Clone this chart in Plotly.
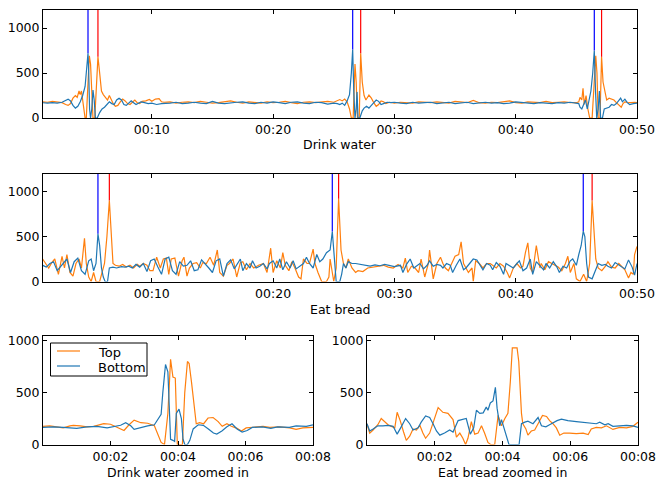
import plotly.graph_objects as go

ORANGE = "#ff7f0e"
BLUE = "#1f77b4"

# ---------------- Drink water (full) ----------------
DW_T_TOP = [1.0, 1.4, 1.8, 2.2, 2.6, 2.9, 3.1, 3.3, 3.5, 3.7, 3.85, 4.0, 4.1, 4.2, 4.3, 4.4, 4.5, 4.6, 4.7, 4.85,
            4.95, 5.05, 5.15, 5.3, 5.45, 5.56, 5.7, 5.85, 6.0, 6.2, 6.35, 6.5, 6.7, 6.85, 7.0, 7.2, 7.4, 7.6, 7.8,
            8.0, 8.2, 8.4, 8.6, 8.8, 9.0, 9.2, 9.5, 9.8, 10.0, 10.3, 10.6, 10.8,
            11.0, 11.5, 12.0, 12.5, 13.0, 13.5, 14.0, 14.5, 15.0, 15.5, 16.0, 16.5, 17.0, 17.5, 18.0, 18.5, 19.0,
            19.5, 20.0, 20.5, 21.0, 21.5, 22.0, 22.5, 23.0, 23.5, 24.0, 24.5,
            25.0, 25.3, 25.5, 25.7, 25.9, 26.1, 26.3, 26.45, 26.6, 26.75, 26.85, 26.95, 27.1, 27.22, 27.35, 27.5,
            27.65, 27.9, 28.1, 28.3, 28.5, 28.7, 28.9, 29.1, 29.3, 29.6,
            30.0, 30.5, 31.0, 31.5, 32.0, 32.5, 33.0, 33.5, 34.0, 34.5, 35.0, 35.5, 36.0, 36.5, 37.0, 37.5, 38.0,
            38.5, 39.0, 39.5, 40.0, 40.5, 41.0, 41.5, 42.0, 42.5, 43.0, 43.5, 44.0, 44.5,
            45.0, 45.2, 45.3, 45.45, 45.55, 45.65, 45.8, 45.95, 46.1, 46.3, 46.45, 46.6, 46.7, 46.8, 46.95, 47.08,
            47.2, 47.35, 47.5, 47.7, 47.9, 48.1, 48.3, 48.5, 48.7, 48.85, 49.0, 49.2, 49.5, 49.8, 50.0]
DW_TOP = [180, 175, 185, 180, 170, 150, 140, 160, 220, 250, 230, 300, 260, 300, 180, 50, 0, 0, 300, 690,
          600, 300, 0, 0, 400, 680, 500, 300, 260, 230, 200, 250, 180, 150, 130, 140, 180, 210, 190,
          160, 150, 180, 200, 170, 160, 185, 190, 205, 185, 210, 215, 180,
          175, 180, 165, 175, 180, 170, 185, 175, 165, 170, 180, 190, 175, 165, 180, 175, 165,
          180, 170, 175, 185, 170, 160, 175, 180, 170, 175, 185,
          175, 190, 205, 190, 210, 180, 100, 0, 0, 600, 400, 0, 0, 720, 400, 250,
          200, 255, 220, 170, 130, 150, 190, 180, 160, 175,
          165, 175, 170, 165, 180, 175, 170, 180, 175, 165, 185, 175, 170, 195, 170, 165, 175,
          170, 180, 190, 170, 165, 180, 175, 170, 185, 170, 175, 180, 170,
          170, 180, 230, 200, 330, 150, 250, 100, 0, 0, 300, 690, 500, 0, 0, 680,
          400, 280, 200, 220, 210, 200, 170, 150, 120, 160, 180, 175, 170, 175, 170]

DW_T_BOT = [1.0, 1.4, 1.8, 2.2, 2.6, 2.9, 3.1, 3.3, 3.5, 3.7, 3.9, 4.1, 4.3, 4.5, 4.65, 4.74, 4.8, 4.87, 4.95,
            5.05, 5.15, 5.25, 5.35, 5.5, 5.7, 5.9, 6.1, 6.3, 6.5, 6.7, 6.9, 7.1, 7.3, 7.5, 7.7, 7.9, 8.1, 8.3,
            8.5, 8.7, 8.9, 9.1, 9.4, 9.7, 10.0, 10.4, 10.8,
            11.0, 11.5, 12.0, 12.5, 13.0, 13.5, 14.0, 14.5, 15.0, 15.5, 16.0, 16.5, 17.0, 17.5, 18.0, 18.5, 19.0,
            19.5, 20.0, 20.5, 21.0, 21.5, 22.0, 22.5, 23.0, 23.5, 24.0, 24.5,
            25.0, 25.3, 25.5, 25.7, 25.9, 26.1, 26.3, 26.45, 26.56, 26.65, 26.75, 26.85, 26.92, 27.0, 27.15,
            27.35, 27.5, 27.7, 27.9, 28.1, 28.3, 28.5, 28.7, 28.9, 29.1, 29.4, 29.7,
            30.0, 30.5, 31.0, 31.5, 32.0, 32.5, 33.0, 33.5, 34.0, 34.5, 35.0, 35.5, 36.0, 36.5, 37.0, 37.5, 38.0,
            38.5, 39.0, 39.5, 40.0, 40.5, 41.0, 41.5, 42.0, 42.5, 43.0, 43.5, 44.0, 44.5,
            45.0, 45.2, 45.3, 45.45, 45.6, 45.75, 45.9, 46.05, 46.2, 46.35, 46.48, 46.58, 46.68, 46.8, 46.9,
            47.0, 47.15, 47.3, 47.5, 47.7, 47.9, 48.1, 48.3, 48.5, 48.65, 48.8, 49.0, 49.2, 49.4, 49.7, 50.0]
DW_BOT = [170, 165, 170, 165, 175, 200, 210, 190, 140, 110, 130, 180, 250, 350, 600, 720, 500, 100, 0,
          100, 310, 200, 0, 0, 60, 100, 120, 150, 180, 160, 150, 200, 220, 200, 150, 140, 170, 190,
          170, 150, 165, 180, 170, 160, 165, 150, 160,
          160, 165, 175, 160, 165, 175, 165, 160, 185, 165, 160, 170, 175, 180, 165, 160, 175,
          165, 180, 170, 160, 175, 180, 165, 160, 175, 170, 155,
          165, 160, 150, 165, 140, 190, 260, 500, 760, 300, 0, 100, 290, 0, 0,
          80, 110, 130, 110, 140, 170, 200, 185, 150, 160, 175, 170,
          175, 165, 160, 175, 165, 170, 175, 160, 165, 175, 160, 170, 175, 160, 170, 175, 165,
          170, 160, 165, 180, 175, 165, 160, 170, 165, 160, 170, 165, 175,
          165, 160, 120, 100, 150, 200, 100, 200, 300, 500, 750, 300, 0, 100, 300,
          0, 0, 100, 110, 120, 150, 140, 160, 200, 220, 180, 210, 170, 150, 160, 165]

# ---------------- Eat bread (full) ----------------
EB_T_TOP = [1.0, 1.25, 1.5, 1.75, 2.0, 2.3, 2.6, 2.8, 3.0, 3.25, 3.5, 3.75, 4.0, 4.2, 4.45, 4.6, 4.8, 5.0, 5.2,
            5.4, 5.7, 6.1, 6.3, 6.5, 6.65, 6.8, 7.0, 7.3, 7.6, 7.9, 8.2, 8.5, 8.8, 9.0, 9.3, 9.6, 9.85, 10.1,
            10.4, 10.7, 10.95, 11.2, 11.4, 11.6, 11.9, 12.2, 12.5, 12.65, 12.9, 13.1, 13.4, 13.7, 14.0, 14.2,
            14.5, 14.8, 15.1, 15.4, 15.6, 15.9, 16.2, 16.4, 16.7, 17.0, 17.3, 17.5, 17.8, 18.1, 18.4, 18.8,
            19.2, 19.5, 19.8, 20.0, 20.3, 20.6, 20.8, 21.0, 21.3, 21.55, 21.8, 22.1, 22.3, 22.5, 22.8, 23.0,
            23.3, 23.45, 23.7, 24.0, 24.4, 24.6, 24.7, 25.0, 25.2, 25.4, 25.6, 25.8, 26.0, 26.2, 26.5, 26.8,
            27.0, 27.4, 27.8, 28.3, 28.7, 29.1, 29.5, 29.9, 30.3, 30.7, 30.9, 31.1, 31.4, 31.7, 32.0, 32.2,
            32.5, 32.8, 32.9, 33.2, 33.5, 33.8, 34.0, 34.2, 34.45, 34.7, 35.0, 35.3, 35.5, 35.7, 35.9, 36.1,
            36.4, 36.5, 36.7, 37.0, 37.3, 37.6, 37.9, 38.2, 38.4, 38.7, 39.0, 39.3, 39.5, 39.8, 40.1, 40.4,
            40.6, 40.8, 41.0, 41.2, 41.4, 41.7, 42.0, 42.1, 42.4, 42.7, 43.0, 43.2, 43.5, 43.8, 44.1, 44.3,
            44.5, 44.8, 45.0, 45.3, 45.6, 45.85, 46.1, 46.3, 46.45, 46.6, 46.8, 47.1, 47.4, 47.6, 47.9, 48.2,
            48.5, 48.7, 49.0, 49.3, 49.5, 49.7, 49.8, 50.0]
EB_TOP = [250, 200, 150, 210, 250, 80, 280, 150, 300, 100, 60, 200, 250, 150, 480, 200, 50, 0, 100,
          0, 0, 200, 500, 900, 500, 200, 180, 170, 190, 160, 180, 150, 190, 170, 200, 180, 120, 120,
          270, 150, 250, 260, 80, 250, 260, 60, 230, 270, 60, 150, 200, 210, 150, 210,
          200, 270, 180, 350, 100, 60, 180, 200, 250, 50, 210, 220, 130, 200, 150, 180,
          200, 100, 370, 100, 230, 150, 320, 180, 120, 220, 150, 50, 30, 250, 200, 200,
          360, 200, 100, 0, 0, 50, 250, 0, 150, 920, 350, 200, 150, 250, 150, 100,
          120, 110, 150, 160, 170, 180, 160, 150, 190, 150, 260, 100, 170, 150, 100, 250,
          50, 200, 350, 30, 200, 270, 200, 150, 120, 200, 280, 300, 440, 200, 150, 100,
          150, 0, 230, 200, 150, 200, 200, 170, 150, 200, 170, 100, 40, 150, 200, 150,
          170, 320, 430, 150, 100, 400, 150, 200, 130, 220, 200, 180, 160, 120, 200, 280,
          100, 200, 30, 0, 80, 0, 200, 900, 600, 250, 150, 120, 170, 220, 160, 150,
          200, 170, 130, 40, 100, 80, 300, 390]

EB_T_BOT = [1.0, 1.3, 1.6, 1.9, 2.2, 2.5, 2.8, 3.0, 3.3, 3.6, 3.9, 4.2, 4.5, 4.8, 5.0, 5.2, 5.4, 5.56, 5.7,
            5.85, 6.0, 6.15, 6.35, 6.5, 6.8, 7.1, 7.5, 7.8, 8.1, 8.4, 8.7, 9.0, 9.3, 9.6, 9.9, 10.2, 10.5,
            10.8, 11.1, 11.4, 11.7, 12.0, 12.3, 12.6, 12.9, 13.2, 13.5, 13.8, 14.1, 14.4, 14.7, 15.0, 15.3,
            15.6, 15.9, 16.2, 16.5, 16.8, 17.1, 17.3, 17.5, 17.8, 18.1, 18.3, 18.6, 18.9, 19.2, 19.5, 19.7,
            20.0, 20.3, 20.55, 20.8, 21.1, 21.4, 21.65, 21.9, 22.2, 22.5, 22.75, 23.0, 23.3, 23.6, 23.85,
            24.1, 24.4, 24.7, 24.88, 25.0, 25.2, 25.5, 25.65, 25.8, 26.0, 26.2, 26.5, 26.8, 27.2, 27.6, 28.0,
            28.4, 28.8, 29.2, 29.6, 30.0, 30.5, 30.7, 31.0, 31.3, 31.6, 31.8, 32.1, 32.4, 32.7, 32.9, 33.2,
            33.5, 33.8, 34.0, 34.3, 34.6, 34.8, 35.1, 35.4, 35.7, 35.9, 36.2, 36.5, 36.8, 37.0, 37.3, 37.6,
            37.9, 38.1, 38.4, 38.7, 39.0, 39.2, 39.5, 39.8, 40.1, 40.3, 40.6, 40.9, 41.2, 41.4, 41.7, 42.0,
            42.3, 42.5, 42.8, 43.1, 43.4, 43.6, 43.9, 44.2, 44.5, 44.7, 45.0, 45.2, 45.4, 45.57, 45.7, 45.85,
            46.0, 46.3, 46.5, 46.8, 47.1, 47.4, 47.6, 47.9, 48.2, 48.5, 48.7, 49.0, 49.3, 49.6, 49.8, 50.0]
EB_BOT = [180, 160, 200, 220, 120, 170, 220, 250, 100, 220, 260, 120, 80, 230, 250, 120, 200, 530, 400,
          150, 50, 0, 0, 150, 160, 150, 165, 160, 170, 150, 190, 160, 200, 110, 230, 250, 160,
          80, 250, 270, 120, 80, 220, 170, 180, 230, 120, 130, 240, 200, 150, 100, 230,
          250, 60, 200, 240, 140, 200, 250, 120, 200, 150, 230, 150, 170, 200, 140, 200,
          230, 150, 250, 130, 220, 150, 230, 140, 170, 200, 270, 200, 150, 300, 220,
          250, 320, 350, 555, 300, 0, 0, 80, 200, 150, 220, 200, 200, 190, 180, 170,
          185, 175, 190, 180, 165, 180, 100, 190, 250, 150, 170, 200, 140, 180, 230, 170,
          190, 180, 150, 200, 180, 100, 180, 250, 130, 150, 200, 250, 240, 200, 130, 200,
          180, 130, 210, 170, 80, 200, 170, 150, 200, 230, 120, 150, 250, 80, 220, 180,
          130, 200, 150, 220, 160, 100, 170, 150, 230, 250, 180, 300, 400, 560, 500, 200,
          50, 30, 100, 200, 180, 190, 170, 150, 210, 180, 170, 140, 240, 160, 70, 200]

# ---------------- Drink water zoomed in ----------------
DWZ_T_TOP = [0.0, 0.2, 0.4, 0.6, 0.8, 0.9, 1.1, 1.3, 1.5, 1.7, 1.8, 2.0, 2.2, 2.4, 2.55, 2.7, 2.9, 3.1, 3.3, 3.4,
             3.5, 3.6, 3.7, 3.78, 3.85, 3.92, 3.98, 4.13, 4.2, 4.28, 4.33, 4.4, 4.46, 4.54, 4.64, 4.76, 4.89,
             5.04, 5.19, 5.31, 5.45, 5.58, 5.75, 5.88, 6.02, 6.22, 6.52, 6.72, 7.01, 7.31, 7.5, 7.7, 8.0]
DWZ_TOP = [175, 180, 170, 160, 180, 185, 180, 170, 175, 190, 200, 195, 165, 135, 190, 235, 210, 205, 180, 100,
           20, 0, 300, 820, 650, 640, 0, 0, 500, 800, 780, 600, 450, 200, 210, 200, 255,
           260, 220, 175, 200, 175, 155, 130, 160, 165, 175, 165, 170, 160, 145, 160, 165]
DWZ_T_BOT = [0.0, 0.3, 0.6, 1.0, 1.3, 1.6, 1.9, 2.1, 2.3, 2.45, 2.6, 2.7, 2.9, 3.1, 3.3, 3.45, 3.5, 3.55, 3.63,
             3.7, 3.75, 3.78, 3.85, 3.9, 3.95, 4.03, 4.1, 4.15, 4.2, 4.28, 4.35, 4.45, 4.6, 4.75, 4.9, 5.05,
             5.15, 5.3, 5.45, 5.6, 5.75, 5.9, 6.05, 6.2, 6.5, 6.75, 6.95, 7.3, 7.5, 7.8, 8.0]
DWZ_BOT = [165, 170, 165, 155, 170, 175, 160, 175, 185, 210, 180, 145, 165, 180, 190, 260, 290, 500, 770,
           700, 300, 50, 40, 30, 300, 340, 250, 50, 0, 0, 40, 150, 190, 185, 150, 110,
           100, 130, 170, 200, 150, 120, 135, 165, 170, 155, 170, 165, 180, 175, 190]

# ---------------- Eat bread zoomed in ----------------
EBZ_T_TOP = [0.0, 0.08, 0.18, 0.32, 0.42, 0.52, 0.62, 0.72, 0.82, 0.89, 0.98, 1.08, 1.16, 1.26, 1.36, 1.46, 1.56,
             1.65, 1.73, 1.85, 2.0, 2.1, 2.24, 2.39, 2.54, 2.64, 2.74, 2.83, 2.91, 2.98, 3.08, 3.18, 3.28, 3.38,
             3.47, 3.57, 3.65, 3.77, 3.87, 3.97, 4.07, 4.16, 4.23, 4.29, 4.43, 4.48, 4.56, 4.6, 4.69, 4.75,
             4.85, 4.95, 5.05, 5.18, 5.3, 5.39, 5.49, 5.59, 5.69, 5.81, 5.98, 6.18, 6.38, 6.53, 6.62, 6.77,
             6.92, 7.07, 7.26, 7.46, 7.66, 7.85, 8.0]
EBZ_TOP = [200, 110, 140, 190, 250, 215, 190, 175, 160, 310, 230, 120, 40, 80, 150, 140, 185,
           110, 60, 110, 250, 355, 310, 300, 240, 70, 110, 60, 0, 60, 220, 100, 110, 180,
           110, 20, 0, 0, 280, 180, 250, 300, 600, 930, 930, 800, 300, 200, 150, 90,
           130, 140, 200, 280, 270, 230, 200, 160, 90, 110, 110, 105, 110, 95, 150, 165,
           160, 180, 145, 165, 160, 175, 215]
EBZ_T_BOT = [0.0, 0.08, 0.18, 0.32, 0.47, 0.62, 0.77, 0.89, 1.01, 1.14, 1.26, 1.36, 1.51, 1.6, 1.73, 1.85, 1.95,
             2.05, 2.15, 2.29, 2.44, 2.54, 2.69, 2.81, 2.93, 3.05, 3.15, 3.23, 3.33, 3.43, 3.52, 3.57, 3.64,
             3.72, 3.79, 3.84, 3.92, 3.97, 4.04, 4.11, 4.19, 4.49, 4.56, 4.66, 4.75, 4.9, 5.05, 5.15, 5.28,
             5.39, 5.49, 5.61, 5.74, 5.93, 6.18, 6.38, 6.57, 6.77, 6.87, 7.02, 7.12, 7.26, 7.46, 7.66, 7.85, 8.0]
EBZ_BOT = [200, 130, 150, 180, 180, 185, 175, 100, 170, 250, 200, 140, 160, 215, 275, 260, 200,
           130, 90, 110, 140, 120, 230, 240, 250, 100, 160, 330, 300, 305, 360, 330, 400,
           420, 550, 350, 180, 240, 170, 100, 0, 0, 200, 215, 225, 200, 260, 180, 170,
           190, 210, 230, 245, 230, 220, 215, 205, 200, 215, 190, 200, 175, 180, 185, 180, 165]

# Windows (seconds) in which the detected peaks are marked
DW_BLUE_WINDOWS = [(4.0, 5.2), (26.0, 27.0), (46.0, 47.0)]
DW_RED_WINDOWS = [(5.4, 6.0), (27.1, 27.6), (47.0, 47.5)]
EB_BLUE_WINDOWS = [(5.0, 6.0), (24.5, 25.2), (45.0, 46.0)]
EB_RED_WINDOWS = [(6.0, 7.0), (25.0, 26.0), (46.0, 46.6)]

FULL_TICKS = [10, 20, 30, 40, 50]
FULL_TICK_LABELS = ["00:10", "00:20", "00:30", "00:40", "00:50"]
ZOOM_TICKS = [2, 4, 6, 8]
ZOOM_TICK_LABELS = ["00:02", "00:04", "00:06", "00:08"]
Y_TICKS = [0, 500, 1000]
LEGEND_NAMES = ["Top", "Bottom"]
LEGEND_COLORS = [ORANGE, BLUE]

FONT = "DejaVu Sans"
FS = 12.5
W, H = 657, 480


def px_x(p):
    return p / W


def px_y(p):
    return 1 - p / H


fig = go.Figure()


def add_line(t, v, color, xa, ya, name=None):
    fig.add_trace(go.Scatter(x=t, y=v, mode="lines", line=dict(color=color, width=1.2),
                             xaxis=xa, yaxis=ya, name=name, showlegend=False, hoverinfo="skip"))


def peak_marks(t, v, windows, color, xa, ya, ymax):
    for (a, b) in windows:
        idx = [i for i, tt in enumerate(t) if a <= tt <= b]
        i = max(idx, key=lambda k: v[k])
        fig.add_trace(go.Scatter(x=[t[i], t[i]], y=[v[i], ymax], mode="lines",
                                 line=dict(color=color, width=1.2), xaxis=xa, yaxis=ya,
                                 showlegend=False, hoverinfo="skip"))


# Drink water
add_line(DW_T_TOP, DW_TOP, ORANGE, "x", "y")
add_line(DW_T_BOT, DW_BOT, BLUE, "x", "y")
peak_marks(DW_T_BOT, DW_BOT, DW_BLUE_WINDOWS, "#0000ff", "x", "y", 1200)
peak_marks(DW_T_TOP, DW_TOP, DW_RED_WINDOWS, "#ff0000", "x", "y", 1200)
# Eat bread
add_line(EB_T_TOP, EB_TOP, ORANGE, "x2", "y2")
add_line(EB_T_BOT, EB_BOT, BLUE, "x2", "y2")
peak_marks(EB_T_BOT, EB_BOT, EB_BLUE_WINDOWS, "#0000ff", "x2", "y2", 1200)
peak_marks(EB_T_TOP, EB_TOP, EB_RED_WINDOWS, "#ff0000", "x2", "y2", 1200)
# Zoomed
add_line(DWZ_T_TOP, DWZ_TOP, ORANGE, "x3", "y3", "Top")
add_line(DWZ_T_BOT, DWZ_BOT, BLUE, "x3", "y3", "Bottom")
add_line(EBZ_T_TOP, EBZ_TOP, ORANGE, "x4", "y4")
add_line(EBZ_T_BOT, EBZ_BOT, BLUE, "x4", "y4")

axis_common = dict(showline=True, linecolor="black", linewidth=1, mirror="ticks", ticks="inside",
                   ticklen=4, tickcolor="black", showgrid=False, zeroline=False, automargin=False,
                   tickfont=dict(family=FONT, size=FS, color="black"))


def xaxis(domain, rng, tv, tt, anchor):
    return dict(domain=domain, range=rng, tickvals=tv, ticktext=tt, anchor=anchor, **axis_common)


def yaxis(domain, rng, anchor):
    return dict(domain=domain, range=rng, tickvals=Y_TICKS, ticktext=[str(v) for v in Y_TICKS],
                anchor=anchor, **axis_common)


# Compact matplotlib-style legend box (frame, line samples and labels)
shapes = [dict(type="rect", xref="paper", yref="paper", x0=px_x(50.5), x1=px_x(147), y0=px_y(376),
               y1=px_y(343), line=dict(color="black", width=1), fillcolor="white", layer="above")]
for k, (name, col) in enumerate(zip(LEGEND_NAMES, LEGEND_COLORS)):
    yy = 351 + 15 * k
    shapes.append(dict(type="line", xref="paper", yref="paper", x0=px_x(57), x1=px_x(80),
                       y0=px_y(yy), y1=px_y(yy), line=dict(color=col, width=1.2), layer="above"))

fig.update_layout(
    width=W, height=H, autosize=False,
    margin=dict(l=0, r=0, t=0, b=0, pad=0, autoexpand=False),
    paper_bgcolor="white", plot_bgcolor="white",
    font=dict(family=FONT, size=FS, color="black"),
    xaxis=xaxis([px_x(43), px_x(637)], [1.03, 50], FULL_TICKS, FULL_TICK_LABELS, "y"),
    yaxis=yaxis([px_y(118), px_y(10)], [0, 1200], "x"),
    xaxis2=xaxis([px_x(43), px_x(637)], [1.03, 50], FULL_TICKS, FULL_TICK_LABELS, "y2"),
    yaxis2=yaxis([px_y(281.5), px_y(173.5)], [0, 1200], "x2"),
    xaxis3=xaxis([px_x(43), px_x(313)], [0, 8], ZOOM_TICKS, ZOOM_TICK_LABELS, "y3"),
    yaxis3=yaxis([px_y(444.5), px_y(336)], [0, 1045], "x3"),
    xaxis4=xaxis([px_x(367), px_x(638)], [0, 8], ZOOM_TICKS, ZOOM_TICK_LABELS, "y4"),
    yaxis4=yaxis([px_y(444.5), px_y(336)], [0, 1045], "x4"),
    shapes=shapes,
    showlegend=False,
)

labels = [("Drink water", 340, 145), ("Eat bread", 340, 309),
          ("Drink water zoomed in", 178, 472), ("Eat bread zoomed in", 503, 472)]
for text, x, y in labels:
    fig.add_annotation(text=text, x=px_x(x), y=px_y(y), xref="paper", yref="paper",
                       showarrow=False, xanchor="center", yanchor="middle",
                       font=dict(family=FONT, size=FS, color="black"))

for k, name in enumerate(LEGEND_NAMES):
    fig.add_annotation(text=name, x=px_x(96), y=px_y(352 + 15 * k), xref="paper", yref="paper",
                       showarrow=False, xanchor="left", yanchor="middle",
                       font=dict(family=FONT, size=13, color="black"))

fig.write_html(
    "out.html",
    config={"displayModeBar": False, "responsive": False},
    post_script="document.body.style.margin='0';document.body.style.padding='0';"
                "document.body.style.overflow='hidden';"
                "document.documentElement.style.overflow='hidden';",
)
